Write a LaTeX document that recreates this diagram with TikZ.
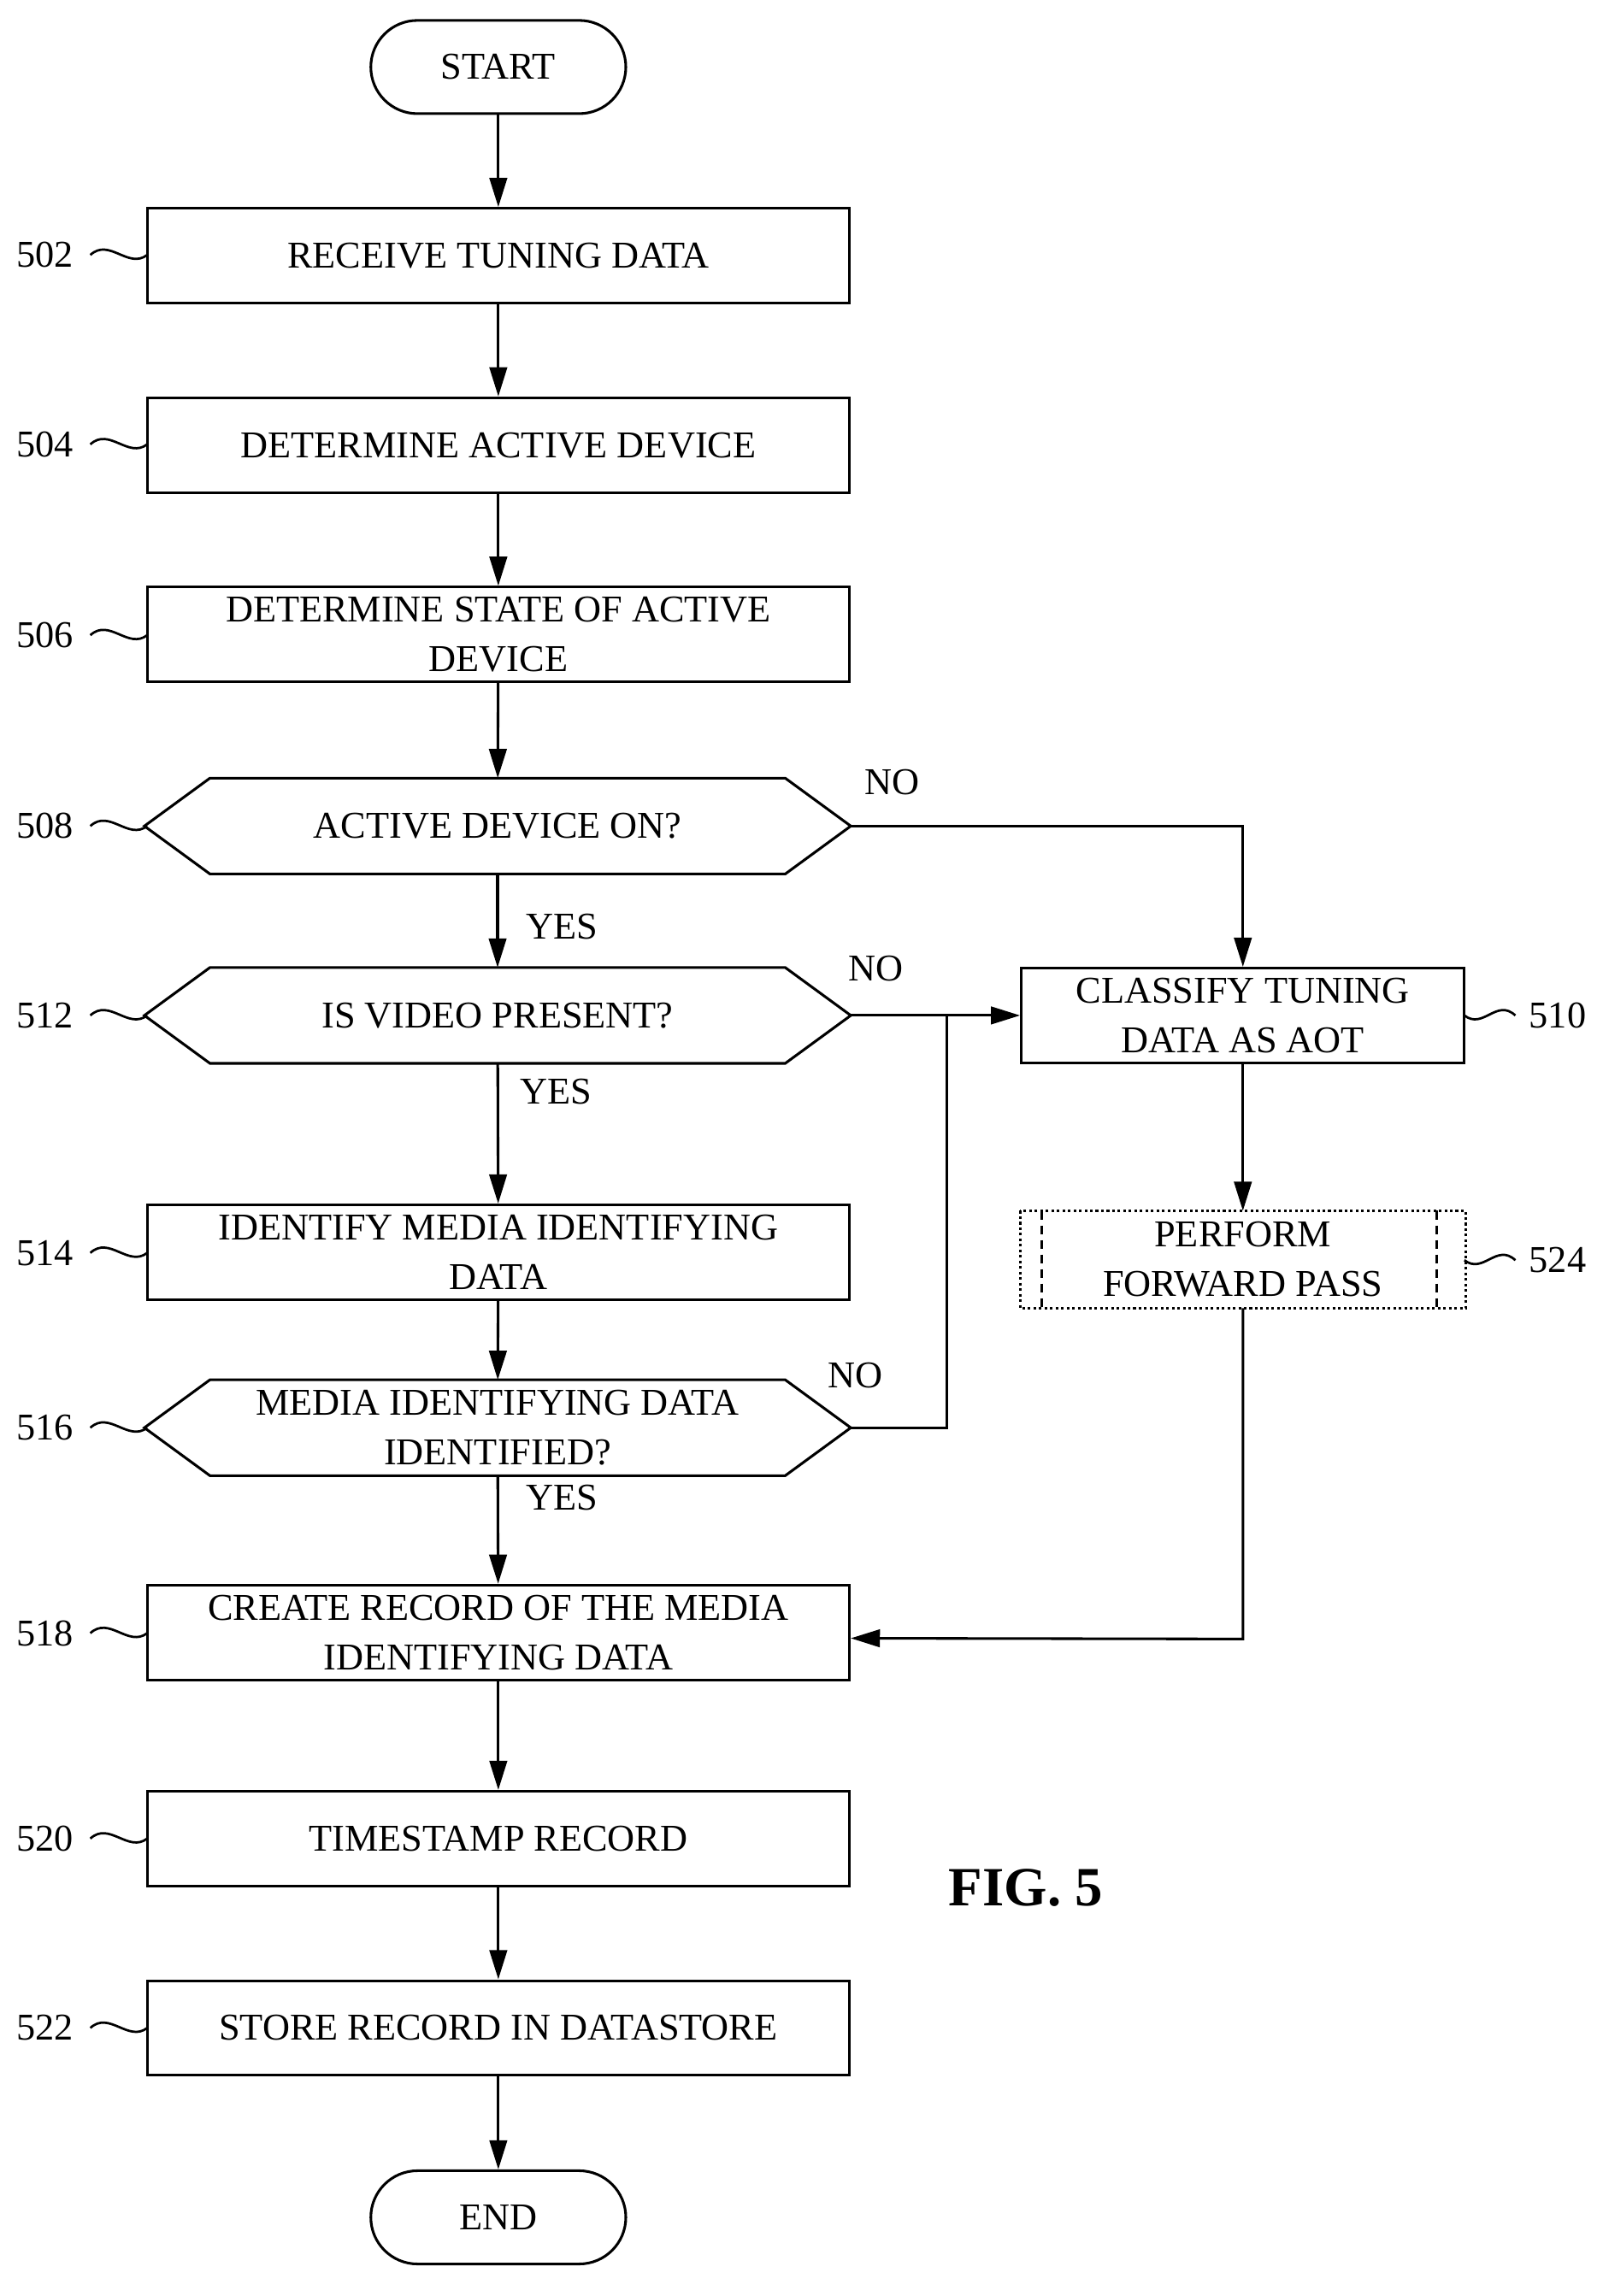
\documentclass[tikz,border=0pt]{standalone}
\usepackage{fontspec}
\setmainfont{Liberation Serif}
\usetikzlibrary{arrows.meta}
\begin{document}
\begin{tikzpicture}[x=0.5pt,y=-0.5pt,line width=0.9pt,
  txt/.style={font=\fontsize{13}{17}\selectfont,align=center},
  box/.style={draw,txt,minimum width=241pt,minimum height=32.5pt,inner sep=0pt},
  hx/.style={txt,minimum width=241.5pt,minimum height=32pt,inner sep=0pt},
  term/.style={draw,txt,rounded corners=16pt,minimum width=87.5pt,minimum height=32pt,inner sep=0pt},
  lbl/.style={font=\fontsize{13}{15}\selectfont},
  arr/.style={-{Triangle[length=10pt,width=6pt]}}]
\useasboundingbox (0,0) rectangle (1100,1576);
\newcommand{\hexa}[1]{\draw (#1.west) -- ([xshift=22.5pt]#1.north west) -- ([xshift=-22.5pt]#1.north east) -- (#1.east) -- ([xshift=-22.5pt]#1.south east) -- ([xshift=22.5pt]#1.south west) -- cycle;}
\newcommand{\tildeL}[3]{\node[lbl,anchor=east] (#1) at (58,#2) {#3}; \draw[line width=0.8pt] (62,#2) .. controls (75,#2-12) and (88,#2+10) .. (101,#2);}
\newcommand{\tildeR}[3]{\node[lbl,anchor=west] (#1) at (1042,#2) {#3}; \draw[line width=0.8pt] (1005,#2) .. controls (1018,#2+10) and (1027,#2-12) .. (1040,#2);}
\node[term] (start) at (342,46) {START};
\node[box] (n502) at (342,175.5) {RECEIVE TUNING DATA};
\node[box] (n504) at (342,305.5) {DETERMINE ACTIVE DEVICE};
\node[box] (n506) at (342,435.5) {DETERMINE STATE OF ACTIVE\\DEVICE};
\node[hx] (n508) at (341.5,567) {ACTIVE DEVICE ON?}; \hexa{n508}
\node[hx] (n512) at (341.5,697) {IS VIDEO PRESENT?}; \hexa{n512}
\node[box] (n514) at (342,859.5) {IDENTIFY MEDIA IDENTIFYING\\DATA};
\node[hx] (n516) at (341.5,980) {MEDIA IDENTIFYING DATA\\IDENTIFIED?}; \hexa{n516}
\node[box] (n518) at (342,1120.5) {CREATE RECORD OF THE MEDIA\\IDENTIFYING DATA};
\node[box] (n520) at (342,1262) {TIMESTAMP RECORD};
\node[box] (n522) at (342,1392) {STORE RECORD IN DATASTORE};
\node[term] (end) at (342,1522) {END};
\node[box,minimum width=152pt] (n510) at (853,697) {CLASSIFY TUNING\\DATA AS AOT};
\node[box,minimum width=152pt,draw=none] (n524) at (853,864.5) {PERFORM\\FORWARD PASS};
\draw[densely dotted] (n524.north west) rectangle (n524.south east);
\draw[densely dashed] ([xshift=7.5pt]n524.north west) -- ([xshift=7.5pt]n524.south west);
\draw[densely dashed] ([xshift=-10pt]n524.north east) -- ([xshift=-10pt]n524.south east);
\tildeL{l502}{175}{502}
\tildeL{l504}{305}{504}
\tildeL{l506}{436}{506}
\tildeL{l508}{567}{508}
\tildeL{l512}{697}{512}
\tildeL{l514}{860}{514}
\tildeL{l516}{980}{516}
\tildeL{l518}{1121}{518}
\tildeL{l520}{1262}{520}
\tildeL{l522}{1392}{522}
\tildeR{l510}{697}{510}
\tildeR{l524}{865}{524}
\draw[arr] (start) -- (n502);
\draw[arr] (n502) -- (n504);
\draw[arr] (n504) -- (n506);
\draw[arr] (n506) -- (n508);
\draw[arr] (n508) -- node[lbl,right,xshift=6pt,yshift=-2pt]{YES} (n512);
\draw[arr] (n512) -- node[lbl,right,pos=0.2,xshift=4pt]{YES} (n514);
\draw[arr] (n514) -- (n516);
\draw[arr] (n516) -- node[lbl,right,pos=0.2,xshift=6pt]{YES} (n518);
\draw[arr] (n518) -- (n520);
\draw[arr] (n520) -- (n522);
\draw[arr] (n522) -- (end);
\draw[arr] (n508.east) -- (853,567) -- (n510.north);
\node[lbl] (no1) at (612,537) {NO};
\draw[arr] (n512.east) -- (n510.west);
\node[lbl] (no2) at (601,665) {NO};
\coordinate (j) at (650,980);
\draw (n516.east) -- (j) -- (650,697);
\node[lbl] (no3) at (587,944) {NO};
\draw[arr] (n510) -- (n524);
\draw[arr] (n524.south) -- (853,1125) -- ([yshift=-2pt]n518.east);
\node[font=\bfseries\fontsize{19}{22}\selectfont] (fig) at (704,1296) {FIG. 5};
\end{tikzpicture}
\end{document}
